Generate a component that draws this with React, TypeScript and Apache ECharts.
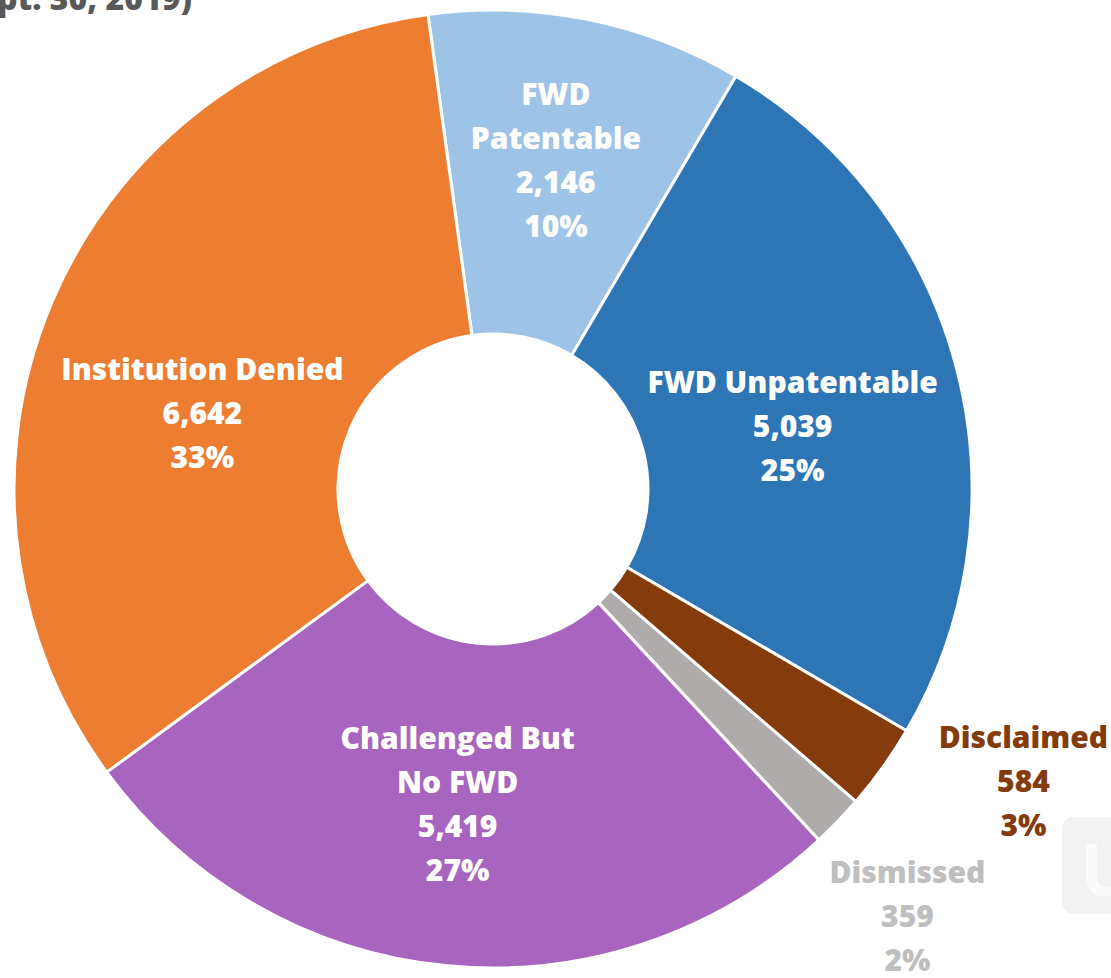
import React, { useEffect, useRef } from "react";
import * as echarts from "echarts";

const categories = [
  "FWD\nPatentable",
  "FWD Unpatentable",
  "Disclaimed",
  "Dismissed",
  "Challenged But\nNo FWD",
  "Institution Denied",
];
const values = [2146, 5039, 584, 359, 5419, 6642];
const percentLabels = ["10%", "25%", "3%", "2%", "27%", "33%"];
const colors = ["#9DC3E6", "#2E75B6", "#843C0C", "#AFABAB", "#A865BF", "#ED7D31"];
const labelColors = ["#FFFFFF", "#FFFFFF", "#843C0C", "#BFBFBF", "#FFFFFF", "#FFFFFF"];
const titleFragment = "pt. 30, 2019)";

const labelOffsets: [number, number][] = [
  [0, -16],
  [-10, 17],
  [270, 106],
  [184, 204],
  [-5, -4],
  [4, 48],
];

const FONT = "'Open Sans', 'Noto Sans', sans-serif";

export default function App() {
  const ref = useRef<HTMLDivElement>(null);
  useEffect(() => {
    document.body.style.margin = "0";
    const chart = echarts.init(ref.current!, null, { renderer: "svg" });
    chart.setOption({
      animation: false,
      backgroundColor: "#FFFFFF",
      graphic: [
        {
          type: "text",
          left: -3,
          top: -19,
          style: {
            text: titleFragment,
            fontFamily: FONT,
            fontWeight: 800,
            fontSize: 32,
            fill: "#595959",
          },
        },
        {
          type: "rect",
          shape: { x: 1062, y: 817, width: 90, height: 97, r: 12 },
          style: { fill: "#F2F2F2" },
        },
        {
          type: "text",
          x: 1080,
          y: 832,
          style: {
            text: "U",
            fontFamily: FONT,
            fontWeight: "bold",
            fontSize: 72,
            fill: "#FAFAFA",
          },
        },
      ],
      series: [
        {
          type: "pie",
          center: [493, 489],
          radius: [155, 479],
          startAngle: 97.8,
          clockwise: true,
          avoidLabelOverlap: false,
          emphasis: { disabled: true },
          itemStyle: { borderColor: "#FFFFFF", borderWidth: 3 },
          label: {
            show: true,
            position: "inside",
            fontFamily: FONT,
            fontWeight: 800,
            fontSize: 30,
            lineHeight: 44,
            align: "center",
            formatter: (p: any) =>
              `${p.name}\n${p.value.toLocaleString("en-US")}\n${percentLabels[p.dataIndex]}`,
          },
          labelLine: { show: false },
          labelLayout: (p: any) => {
            const o = labelOffsets[p.dataIndex];
            return { dx: o[0], dy: o[1] };
          },
          data: categories.map((name, i) => ({
            name,
            value: values[i],
            itemStyle: { color: colors[i] },
            label: { color: labelColors[i] },
          })),
        },
      ],
    });
    return () => chart.dispose();
  }, []);
  return (
    <div
      ref={ref}
      style={{ position: "absolute", left: 0, top: 0, width: 1111, height: 978 }}
    />
  );
}
